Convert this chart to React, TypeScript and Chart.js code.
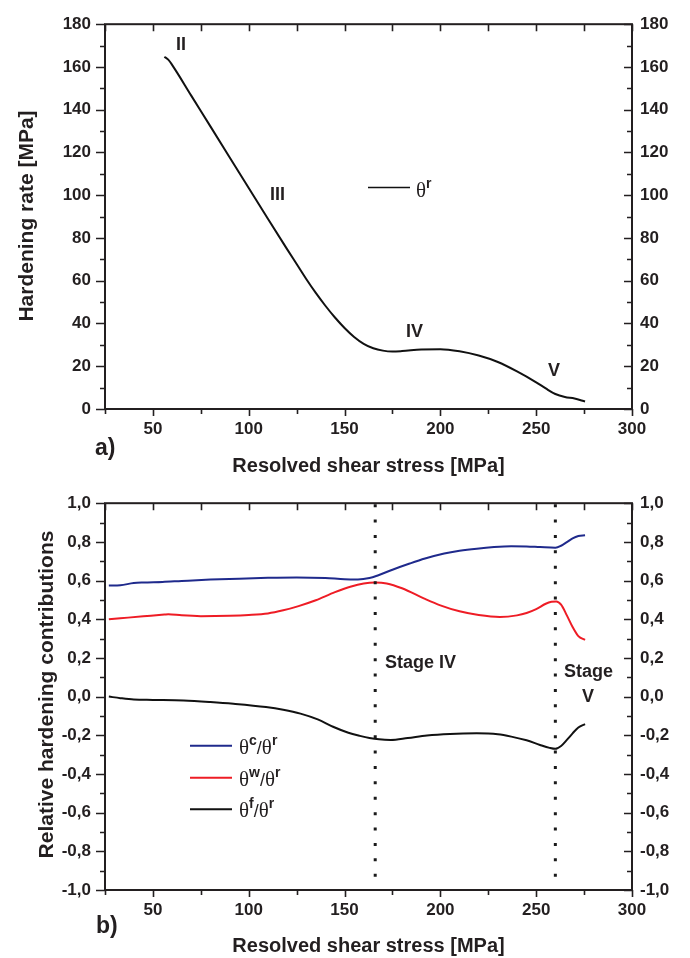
import React, { useEffect, useRef } from 'react';
import { Chart, registerables } from 'chart.js';

Chart.register(...registerables);

// ---------- data (top panel) ----------
const STRESS_R = [56, 58, 60, 70, 80, 90, 100, 110, 120, 125, 130, 135, 140, 145, 150, 155, 160, 165, 170, 175, 180, 190, 200, 210, 220, 230, 240, 250, 255, 260, 265, 270, 275.5];
const THETA_R = [164.8, 163.4, 161.0, 146.6, 132.2, 117.8, 103.4, 89.0, 74.8, 67.8, 60.8, 54.3, 48.3, 42.8, 37.9, 33.7, 30.5, 28.4, 27.3, 26.9, 27.1, 27.8, 28.0, 27.0, 25.0, 22.0, 17.6, 12.5, 9.6, 7.0, 5.6, 4.9, 3.5];

// ---------- data (bottom panel) ----------
const STRESS_C = [27, 33, 40, 45, 55, 65, 80, 95, 110, 125, 140, 150, 157, 163, 167, 175, 184, 192, 202, 210, 219, 228, 237, 245, 252, 260, 263, 266, 269, 272, 275.5];
const RATIO_C = [0.574, 0.576, 0.587, 0.590, 0.593, 0.598, 0.605, 0.610, 0.614, 0.616, 0.613, 0.607, 0.606, 0.613, 0.625, 0.656, 0.688, 0.714, 0.740, 0.754, 0.765, 0.773, 0.777, 0.776, 0.773, 0.770, 0.780, 0.799, 0.818, 0.830, 0.834];

const STRESS_W = [27, 33, 45, 56, 58, 65, 75, 90, 100, 110, 118, 126, 135, 145, 153, 160, 166, 172, 180, 192, 200, 210, 220, 231, 240, 245, 250, 255, 258, 260.5, 263, 266, 269, 272, 275.5];
const RATIO_W = [0.400, 0.405, 0.415, 0.424, 0.426, 0.420, 0.416, 0.418, 0.422, 0.430, 0.446, 0.468, 0.498, 0.540, 0.568, 0.585, 0.590, 0.585, 0.560, 0.505, 0.472, 0.441, 0.422, 0.412, 0.420, 0.432, 0.452, 0.480, 0.490, 0.492, 0.475, 0.420, 0.360, 0.313, 0.293];

const STRESS_F = [27, 33, 40, 50, 66, 80, 92, 109, 118, 127, 136, 144, 152, 158, 163, 168, 174, 183, 193, 205, 219, 230, 237, 245, 252, 257, 260, 263, 266, 269, 272, 275.5];
const RATIO_F = [0.0, -0.008, -0.015, -0.017, -0.020, -0.028, -0.037, -0.054, -0.068, -0.088, -0.118, -0.156, -0.187, -0.203, -0.214, -0.221, -0.224, -0.214, -0.201, -0.193, -0.190, -0.195, -0.207, -0.226, -0.250, -0.265, -0.270, -0.255, -0.224, -0.190, -0.160, -0.142];

const STAGE_LINES_X = [166, 260];

// ---------- ticks ----------
const X_TICKS = [50, 100, 150, 200, 250, 300];
const Y_TICKS_A = [0, 20, 40, 60, 80, 100, 120, 140, 160, 180];
const Y_TICKS_B = [-1.0, -0.8, -0.6, -0.4, -0.2, 0.0, 0.2, 0.4, 0.6, 0.8, 1.0];

const SANS = '"Liberation Sans", Arial, Helvetica, sans-serif';
const SERIF = '"Liberation Serif", "Times New Roman", "DejaVu Serif", serif';
const INK = '#231f20';
const BLUE = '#1f2a8c';
const RED = '#ee1c25';

const pts = (xs: number[], ys: number[]) => xs.map((x, i) => ({ x, y: ys[i] }));

type RichPart = { t: string; font: string; dy?: number };
function drawRich(ctx: CanvasRenderingContext2D, x: number, y: number, parts: RichPart[]) {
  let cx = x;
  for (const p of parts) {
    ctx.font = p.font;
    ctx.fillText(p.t, cx, y + (p.dy || 0));
    cx += ctx.measureText(p.t).width;
  }
}

const THETA_FONT = `21px ${SERIF}`;
const SUP_FONT = `bold 14px ${SANS}`;
const SLASH_FONT = `18px ${SANS}`;

function decorPlugin(opts: {
  yMin: number; yMax: number; yMinor: number; yMajor: number;
  texts: { t: string; x: number; y: number; font: string; align?: CanvasTextAlign; rot?: boolean }[];
  legend: { color: string; y: number; x1: number; x2: number; tx: number; parts: RichPart[]; width: number }[];
}) {
  return {
    id: 'decor',
    afterDraw(chart: any) {
      const { ctx, chartArea: a, scales } = chart;
      const xs = scales.x;
      const ys = scales.y;
      ctx.save();
      ctx.strokeStyle = INK;
      ctx.lineWidth = 2;
      ctx.strokeRect(a.left, a.top, a.right - a.left, a.bottom - a.top);
      ctx.lineWidth = 1.6;
      ctx.beginPath();
      const n = Math.round((opts.yMax - opts.yMin) / opts.yMinor);
      for (let i = 0; i <= n; i++) {
        const v = opts.yMin + i * opts.yMinor;
        const p = Math.round(ys.getPixelForValue(v)) + 0.5;
        const major = Math.abs(v / opts.yMajor - Math.round(v / opts.yMajor)) < 1e-6;
        const lenOut = major ? 9 : 5;
        const lenIn = major ? 8 : 5;
        ctx.moveTo(a.left - lenOut, p); ctx.lineTo(a.left, p);
        ctx.moveTo(a.right, p); ctx.lineTo(a.right - lenIn, p);
      }
      for (let v = 25; v <= 300; v += 25) {
        const p = Math.round(xs.getPixelForValue(v)) + 0.5;
        const major = v % 50 === 0;
        ctx.moveTo(p, a.bottom); ctx.lineTo(p, a.bottom + (major ? 7 : 5));
        ctx.moveTo(p, a.top); ctx.lineTo(p, a.top + 7);
      }
      ctx.stroke();

      ctx.fillStyle = INK;
      ctx.textBaseline = 'alphabetic';
      for (const t of opts.texts) {
        ctx.font = t.font;
        ctx.textAlign = t.align || 'left';
        if (t.rot) {
          ctx.save();
          ctx.translate(t.x, t.y);
          ctx.rotate(-Math.PI / 2);
          ctx.textAlign = 'center';
          ctx.fillText(t.t, 0, 0);
          ctx.restore();
        } else {
          ctx.fillText(t.t, t.x, t.y);
        }
      }
      ctx.textAlign = 'left';
      for (const l of opts.legend) {
        ctx.strokeStyle = l.color;
        ctx.lineWidth = l.width;
        ctx.beginPath();
        ctx.moveTo(l.x1, l.y);
        ctx.lineTo(l.x2, l.y);
        ctx.stroke();
        ctx.fillStyle = INK;
        drawRich(ctx, l.tx, l.y + 8, l.parts);
      }
      ctx.restore();
    },
  };
}

const tickFont = { family: SANS, size: 17, weight: 'bold' as const };

function ChartBox({ config, top, height }: { config: any; top: number; height: number }) {
  const ref = useRef<HTMLCanvasElement | null>(null);
  useEffect(() => {
    if (!ref.current) return;
    const c = new Chart(ref.current, config);
    return () => c.destroy();
  }, []);
  return (
    <div style={{ position: 'absolute', left: 0, top, width: 690, height }}>
      <canvas ref={ref} width={690} height={height} style={{ width: 690, height }} />
    </div>
  );
}

function makeScales(yMin: number, yMax: number, yTicks: number[], fmt: (v: number) => string, xHeight: number) {
  return {
    x: {
      type: 'linear', position: 'bottom', min: 25, max: 300,
      afterBuildTicks: (s: any) => { s.ticks = X_TICKS.map((v) => ({ value: v })); },
      afterFit: (s: any) => { s.height = xHeight; },
      grid: { display: false, drawTicks: false },
      border: { display: false },
      ticks: { font: tickFont, color: INK, padding: 10, maxRotation: 0, autoSkip: false },
    },
    y: {
      type: 'linear', position: 'left', min: yMin, max: yMax,
      afterBuildTicks: (s: any) => { s.ticks = yTicks.map((v) => ({ value: v })); },
      afterFit: (s: any) => { s.width = 105; },
      grid: { display: false, drawTicks: false },
      border: { display: false },
      ticks: { font: tickFont, color: INK, padding: 14, autoSkip: false, callback: (v: any) => fmt(Number(v)) },
    },
    y2: {
      type: 'linear', position: 'right', min: yMin, max: yMax,
      afterBuildTicks: (s: any) => { s.ticks = yTicks.map((v) => ({ value: v })); },
      afterFit: (s: any) => { s.width = 58; },
      grid: { display: false, drawTicks: false },
      border: { display: false },
      ticks: { font: tickFont, color: INK, padding: 8, autoSkip: false, callback: (v: any) => fmt(Number(v)) },
    },
  };
}

const commaFmt = (v: number) => {
  const r = Math.round(v * 10) / 10;
  return (Object.is(r, -0) ? 0 : r).toFixed(1).replace('.', ',');
};

const lineDs = (data: any[], color: string, width = 2) => ({
  data, borderColor: color, borderWidth: width, pointRadius: 0, fill: false,
  tension: 0.4, cubicInterpolationMode: 'monotone', yAxisID: 'y',
});

const configA = {
  type: 'line',
  data: { datasets: [lineDs(pts(STRESS_R, THETA_R), '#111111', 2)] },
  options: {
    animation: false, responsive: false, maintainAspectRatio: false,
    layout: { padding: { top: 19, left: 0, right: 0, bottom: 0 } },
    plugins: { legend: { display: false }, tooltip: { enabled: false } },
    scales: makeScales(0, 180, Y_TICKS_A, (v) => String(Math.round(v)), 70),
  },
  plugins: [decorPlugin({
    yMin: 0, yMax: 180, yMinor: 10, yMajor: 20,
    texts: [
      { t: 'Hardening rate [MPa]', x: 33, y: 216, font: `bold 21px ${SANS}`, rot: true },
      { t: 'Resolved shear stress [MPa]', x: 368.5, y: 472, font: `bold 20px ${SANS}`, align: 'center' },
      { t: 'a)', x: 95, y: 455, font: `bold 23px ${SANS}` },
      { t: 'II', x: 176, y: 50, font: `bold 18px ${SANS}` },
      { t: 'III', x: 270, y: 200, font: `bold 18px ${SANS}` },
      { t: 'IV', x: 406, y: 337, font: `bold 18px ${SANS}` },
      { t: 'V', x: 548, y: 376, font: `bold 18px ${SANS}` },
    ],
    legend: [
      { color: '#111111', y: 187.5, x1: 368, x2: 410, tx: 416, width: 1.6,
        parts: [{ t: 'θ', font: THETA_FONT, dy: 1 }, { t: 'r', font: SUP_FONT, dy: -8 }] },
    ],
  })],
};

const dotted = (x: number) => ({
  data: [{ x, y: 0.995 }, { x, y: -0.95 }], borderColor: '#1a1a1a', borderWidth: 3,
  borderDash: [3, 12.4], borderCapStyle: 'butt', pointRadius: 0, fill: false, yAxisID: 'y', tension: 0,
});

const configB = {
  type: 'line',
  data: {
    datasets: [
      ...STAGE_LINES_X.map(dotted),
      lineDs(pts(STRESS_F, RATIO_F), '#111111', 2),
      lineDs(pts(STRESS_W, RATIO_W), RED, 2),
      lineDs(pts(STRESS_C, RATIO_C), BLUE, 2),
    ],
  },
  options: {
    animation: false, responsive: false, maintainAspectRatio: false,
    layout: { padding: { top: 20, left: 0, right: 0, bottom: 0 } },
    plugins: { legend: { display: false }, tooltip: { enabled: false } },
    scales: makeScales(-1, 1, Y_TICKS_B, commaFmt, 68),
  },
  plugins: [decorPlugin({
    yMin: -1, yMax: 1, yMinor: 0.1, yMajor: 0.2,
    texts: [
      { t: 'Relative hardening contributions', x: 53, y: 215.5, font: `bold 21px ${SANS}`, rot: true },
      { t: 'Resolved shear stress [MPa]', x: 368.5, y: 473, font: `bold 20px ${SANS}`, align: 'center' },
      { t: 'b)', x: 96, y: 454, font: `bold 23px ${SANS}` },
      { t: 'Stage IV', x: 385, y: 189, font: `bold 18px ${SANS}` },
      { t: 'Stage', x: 564, y: 198, font: `bold 18px ${SANS}` },
      { t: 'V', x: 582, y: 223, font: `bold 18px ${SANS}` },
    ],
    legend: [
      { color: BLUE, y: 266.7, x1: 190, x2: 232, tx: 239, width: 2,
        parts: [{ t: 'θ', font: THETA_FONT }, { t: 'c', font: SUP_FONT, dy: -9 }, { t: '/', font: SLASH_FONT }, { t: 'θ', font: THETA_FONT }, { t: 'r', font: SUP_FONT, dy: -9 }] },
      { color: RED, y: 298.7, x1: 190, x2: 232, tx: 239, width: 2,
        parts: [{ t: 'θ', font: THETA_FONT }, { t: 'w', font: SUP_FONT, dy: -9 }, { t: '/', font: SLASH_FONT }, { t: 'θ', font: THETA_FONT }, { t: 'r', font: SUP_FONT, dy: -9 }] },
      { color: '#111111', y: 330.3, x1: 190, x2: 232, tx: 239, width: 2,
        parts: [{ t: 'θ', font: THETA_FONT }, { t: 'f', font: SUP_FONT, dy: -9 }, { t: '/', font: SLASH_FONT }, { t: 'θ', font: THETA_FONT }, { t: 'r', font: SUP_FONT, dy: -9 }] },
    ],
  })],
};

export default function App() {
  return (
    <div style={{ position: 'absolute', left: 0, top: 0, width: 690, height: 958, background: '#ffffff' }}>
      <ChartBox config={configA} top={0} height={479} />
      <ChartBox config={configB} top={479} height={479} />
    </div>
  );
}
